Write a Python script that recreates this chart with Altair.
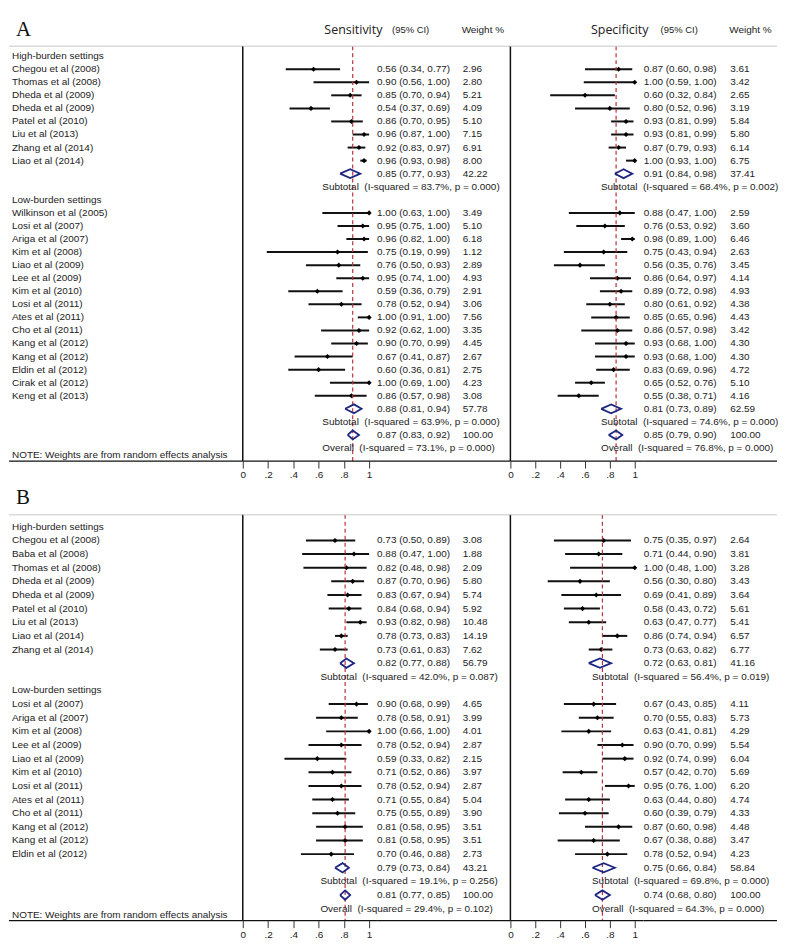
import altair as alt
import pandas as pd

# ======================= DATA =======================
# Panel A
A_HIGH_STUDIES = ["Chegou et al (2008)", "Thomas et al (2008)", "Dheda et al (2009)", "Dheda et al (2009)",
                  "Patel et al (2010)", "Liu et al (2013)", "Zhang et al (2014)", "Liao et al (2014)"]
A_HIGH_SENS = [(0.56, 0.34, 0.77, 2.96), (0.90, 0.56, 1.00, 2.80), (0.85, 0.70, 0.94, 5.21), (0.54, 0.37, 0.69, 4.09),
               (0.86, 0.70, 0.95, 5.10), (0.96, 0.87, 1.00, 7.15), (0.92, 0.83, 0.97, 6.91), (0.96, 0.93, 0.98, 8.00)]
A_HIGH_SPEC = [(0.87, 0.60, 0.98, 3.61), (1.00, 0.59, 1.00, 3.42), (0.60, 0.32, 0.84, 2.65), (0.80, 0.52, 0.96, 3.19),
               (0.93, 0.81, 0.99, 5.84), (0.93, 0.81, 0.99, 5.80), (0.87, 0.79, 0.93, 6.14), (1.00, 0.93, 1.00, 6.75)]
A_HIGH_POOLED = [(0.85, 0.77, 0.93, 42.22), (0.91, 0.84, 0.98, 37.41)]
A_HIGH_HET = ["I-squared = 83.7%, p = 0.000", "I-squared = 68.4%, p = 0.002"]

A_LOW_STUDIES = ["Wilkinson et al (2005)", "Losi et al (2007)", "Ariga et al (2007)", "Kim et al (2008)",
                 "Liao et al (2009)", "Lee et al (2009)", "Kim et al (2010)", "Losi et al (2011)", "Ates et al (2011)",
                 "Cho et al (2011)", "Kang et al (2012)", "Kang et al (2012)", "Eldin et al (2012)",
                 "Cirak et al (2012)", "Keng et al (2013)"]
A_LOW_SENS = [(1.00, 0.63, 1.00, 3.49), (0.95, 0.75, 1.00, 5.10), (0.96, 0.82, 1.00, 6.18), (0.75, 0.19, 0.99, 1.12),
              (0.76, 0.50, 0.93, 2.89), (0.95, 0.74, 1.00, 4.93), (0.59, 0.36, 0.79, 2.91), (0.78, 0.52, 0.94, 3.06),
              (1.00, 0.91, 1.00, 7.56), (0.92, 0.62, 1.00, 3.35), (0.90, 0.70, 0.99, 4.45), (0.67, 0.41, 0.87, 2.67),
              (0.60, 0.36, 0.81, 2.75), (1.00, 0.69, 1.00, 4.23), (0.86, 0.57, 0.98, 3.08)]
A_LOW_SPEC = [(0.88, 0.47, 1.00, 2.59), (0.76, 0.53, 0.92, 3.60), (0.98, 0.89, 1.00, 6.46), (0.75, 0.43, 0.94, 2.63),
              (0.56, 0.35, 0.76, 3.45), (0.86, 0.64, 0.97, 4.14), (0.89, 0.72, 0.98, 4.93), (0.80, 0.61, 0.92, 4.38),
              (0.85, 0.65, 0.96, 4.43), (0.86, 0.57, 0.98, 3.42), (0.93, 0.68, 1.00, 4.30), (0.93, 0.68, 1.00, 4.30),
              (0.83, 0.69, 0.96, 4.72), (0.65, 0.52, 0.76, 5.10), (0.55, 0.38, 0.71, 4.16)]
A_LOW_POOLED = [(0.88, 0.81, 0.94, 57.78), (0.81, 0.73, 0.89, 62.59)]
A_LOW_HET = ["I-squared = 63.9%, p = 0.000", "I-squared = 74.6%, p = 0.000"]
A_OVERALL = [(0.87, 0.83, 0.92, 100.00), (0.85, 0.79, 0.90, 100.00)]
A_OVERALL_HET = ["I-squared = 73.1%, p = 0.000", "I-squared = 76.8%, p = 0.000"]

# Panel B
B_HIGH_STUDIES = ["Chegou et al (2008)", "Baba et al (2008)", "Thomas et al (2008)", "Dheda et al (2009)",
                  "Dheda et al (2009)", "Patel et al (2010)", "Liu et al (2013)", "Liao et al (2014)",
                  "Zhang et al (2014)"]
B_HIGH_SENS = [(0.73, 0.50, 0.89, 3.08), (0.88, 0.47, 1.00, 1.88), (0.82, 0.48, 0.98, 2.09), (0.87, 0.70, 0.96, 5.80),
               (0.83, 0.67, 0.94, 5.74), (0.84, 0.68, 0.94, 5.92), (0.93, 0.82, 0.98, 10.48), (0.78, 0.73, 0.83, 14.19),
               (0.73, 0.61, 0.83, 7.62)]
B_HIGH_SPEC = [(0.75, 0.35, 0.97, 2.64), (0.71, 0.44, 0.90, 3.81), (1.00, 0.48, 1.00, 3.28), (0.56, 0.30, 0.80, 3.43),
               (0.69, 0.41, 0.89, 3.64), (0.58, 0.43, 0.72, 5.61), (0.63, 0.47, 0.77, 5.41), (0.86, 0.74, 0.94, 6.57),
               (0.73, 0.63, 0.82, 6.77)]
B_HIGH_POOLED = [(0.82, 0.77, 0.88, 56.79), (0.72, 0.63, 0.81, 41.16)]
B_HIGH_HET = ["I-squared = 42.0%, p = 0.087", "I-squared = 56.4%, p = 0.019"]

B_LOW_STUDIES = ["Losi et al (2007)", "Ariga et al (2007)", "Kim et al (2008)", "Lee et al (2009)",
                 "Liao et al (2009)", "Kim et al (2010)", "Losi et al (2011)", "Ates et al (2011)", "Cho et al (2011)",
                 "Kang et al (2012)", "Kang et al (2012)", "Eldin et al (2012)"]
B_LOW_SENS = [(0.90, 0.68, 0.99, 4.65), (0.78, 0.58, 0.91, 3.99), (1.00, 0.66, 1.00, 4.01), (0.78, 0.52, 0.94, 2.87),
              (0.59, 0.33, 0.82, 2.15), (0.71, 0.52, 0.86, 3.97), (0.78, 0.52, 0.94, 2.87), (0.71, 0.55, 0.84, 5.04),
              (0.75, 0.55, 0.89, 3.90), (0.81, 0.58, 0.95, 3.51), (0.81, 0.58, 0.95, 3.51), (0.70, 0.46, 0.88, 2.73)]
B_LOW_SPEC = [(0.67, 0.43, 0.85, 4.11), (0.70, 0.55, 0.83, 5.73), (0.63, 0.41, 0.81, 4.29), (0.90, 0.70, 0.99, 5.54),
              (0.92, 0.74, 0.99, 6.04), (0.57, 0.42, 0.70, 5.69), (0.95, 0.76, 1.00, 6.20), (0.63, 0.44, 0.80, 4.74),
              (0.60, 0.39, 0.79, 4.33), (0.87, 0.60, 0.98, 4.48), (0.67, 0.38, 0.88, 3.47), (0.78, 0.52, 0.94, 4.23)]
B_LOW_POOLED = [(0.79, 0.73, 0.84, 43.21), (0.75, 0.66, 0.84, 58.84)]
B_LOW_HET = ["I-squared = 19.1%, p = 0.256", "I-squared = 69.8%, p = 0.000"]
B_OVERALL = [(0.81, 0.77, 0.85, 100.00), (0.74, 0.68, 0.80, 100.00)]
B_OVERALL_HET = ["I-squared = 29.4%, p = 0.102", "I-squared = 64.3%, p = 0.000"]

GROUP_TITLES = ["High-burden settings", "Low-burden settings"]
NOTE = "NOTE: Weights are from random effects analysis"
TICKS = [0, 0.2, 0.4, 0.6, 0.8, 1]

# ======================= STYLE / LAYOUT =======================
FONT = "Liberation Sans"
TXT = "#222222"
NAVY = "#1d2680"
RED = "#b8333d"
W_LAB, W_SF, W_ST, W_PF, W_PT = 235, 135, 134, 134, 134
PPU_SENS, PPU_SPEC = 127, 125


def build(groups, overall, overall_het):
    recs = []

    def add(kind, label="", sens=None, spec=None, het=None):
        d = {"row": len(recs), "kind": kind, "label": label}
        for key, v in (("se", sens), ("sp", spec)):
            if v is not None:
                d[key], d[key + "_lo"], d[key + "_hi"], d[key + "_w"] = v
                d[key + "_txt"] = f"{v[0]:.2f} ({v[1]:.2f}, {v[2]:.2f})"
                d[key + "_wtxt"] = f"{v[3]:.2f}"
        if het is not None:
            d["se_het"] = label + "\u00a0 (" + het[0] + ")"
            d["sp_het"] = label + "\u00a0 (" + het[1] + ")"
        recs.append(d)

    for title, names, sens, spec, pooled, het in groups:
        add("header", title)
        for n, a, b in zip(names, sens, spec):
            add("study", n, a, b)
        add("pooled", "", pooled[0], pooled[1])
        add("het", "Subtotal", het=het)
    add("pooled", "", overall[0], overall[1])
    add("het", "Overall", het=overall_het)
    return pd.DataFrame(recs)


def diamonds(df, key, half=0.34):
    out = []
    for _, d in df[df.kind == "pooled"].iterrows():
        est, lo, hi, r = d[key], d[key + "_lo"], d[key + "_hi"], d["row"]
        pts = [(lo, r), (est, r - half), (hi, r), (est, r + half), (lo, r)]
        for i, (x, y) in enumerate(pts):
            out.append({"id": int(r), "ord": i, "x": x, "y": y})
    return pd.DataFrame(out)


def make_panel(df, dom, height, top_row, letter, letter_row, note_row, header, sub_x):
    bottom_row = dom[1]
    ys = alt.Scale(domain=list(dom), reverse=True, nice=False, zero=False)

    def Y(f):
        return alt.Y(f, scale=ys, axis=None)

    def frame(w):
        top = alt.Chart(pd.DataFrame({"r": [top_row]})).mark_rule(color="#c8c8c8", strokeWidth=1).encode(
            y=Y("r:Q"), x=alt.value(0), x2=alt.value(w))
        bot = alt.Chart(pd.DataFrame({"r": [bottom_row]})).mark_rule(color="#111", strokeWidth=1.2).encode(
            y=Y("r:Q"), x=alt.value(0), x2=alt.value(w))
        return [top, bot]

    def text(data, x, field, size=10, font=FONT, align="left", color=TXT):
        return alt.Chart(data).mark_text(align=align, baseline="middle", font=font, fontSize=size,
                                         color=color).encode(x=alt.value(x), y=Y("row:Q"), text=field)

    base = alt.Chart(df)

    # ---- label column ----
    lab_layers = frame(W_LAB) + [
        base.transform_filter("datum.kind == 'header' || datum.kind == 'study'").mark_text(
            align="left", baseline="middle", font=FONT, fontSize=10, color=TXT).encode(
            x=alt.value(3), y=Y("row:Q"), text="label:N"),
        text(pd.DataFrame({"row": [note_row], "t": [NOTE]}), 3, "t:N"),
        text(pd.DataFrame({"row": [letter_row], "t": [letter]}), 7, "t:N", size=21, font="Liberation Serif",
             color="#111"),
    ]
    labels = alt.layer(*lab_layers).properties(width=W_LAB, height=height)

    def forest(key, width, ppu, sx, head):
        xs = alt.Scale(domain=[0, width / ppu], nice=False, zero=False)
        axis = alt.Axis(values=TICKS, title=None, grid=False, domain=False, ticks=True, tickSize=7,
                        tickColor="#333", labels=True,
                        labelFont=FONT, labelFontSize=10, labelColor=TXT, labelPadding=2, labelFlush=False,
                        labelOverlap=False,
                        labelExpr="datum.value == 0 ? '0' : datum.value == 1 ? '1' : "
                                  "replace(format(datum.value, '.1f'), '0.', '.')")

        def X(f):
            return alt.X(f, scale=xs, axis=axis)

        studies = base.transform_filter("datum.kind == 'study'")
        overall_est = df[df.kind == "pooled"].iloc[-1][key]
        layers = [
            studies.mark_rule(color="#111", strokeWidth=2).encode(
                x=X(f"{key}_lo:Q"), x2=f"{key}_hi:Q", y=Y("row:Q")),
            studies.mark_point(shape="diamond", filled=True, color="#000", size=26, opacity=1).encode(
                x=X(f"{key}:Q"), y=Y("row:Q")),
            alt.Chart(pd.DataFrame({"v": [0], "r1": [top_row], "r2": [bottom_row]})).mark_rule(
                color="#111", strokeWidth=1.5).encode(
                x=X("v:Q"), y=Y("r1:Q"), y2="r2:Q"),
            alt.Chart(pd.DataFrame({"v": [overall_est], "r1": [top_row], "r2": [bottom_row]})).mark_rule(
                color=RED, strokeWidth=1.2, strokeDash=[4, 3]).encode(
                x=X("v:Q"), y=Y("r1:Q"), y2="r2:Q"),
            alt.Chart(diamonds(df, key)).mark_line(color=NAVY, strokeWidth=1.8, strokeJoin="miter").encode(
                x=X("x:Q"), y=Y("y:Q"), detail="id:N", order="ord:Q"),
            base.transform_filter("datum.kind == 'het'").mark_text(
                align="left", baseline="middle", font=FONT, fontSize=10, color=TXT).encode(
                x=alt.value(sx), y=Y("row:Q"), text=f"{key}_het:N"),
        ] + frame(width)
        if head is not None:
            layers.append(text(pd.DataFrame({"row": [letter_row], "t": [head[0]]}), head[1], "t:N",
                               size=12.5, font="Open Sans"))
        return alt.layer(*layers).properties(width=width, height=height)

    def textcol(key, width, wx, head):
        vals = base.transform_filter("datum.kind == 'study' || datum.kind == 'pooled'")
        layers = frame(width) + [
            vals.mark_text(align="left", baseline="middle", font=FONT, fontSize=10, color=TXT).encode(
                x=alt.value(0), y=Y("row:Q"), text=f"{key}_txt:N"),
            vals.mark_text(align="left", baseline="middle", font=FONT, fontSize=10, color=TXT).encode(
                x=alt.value(wx), y=Y("row:Q"), text=f"{key}_wtxt:N"),
        ]
        if head is not None:
            layers.append(text(pd.DataFrame({"row": [letter_row], "t": ["(95% CI)"]}), head[0], "t:N", size=9.5))
            layers.append(text(pd.DataFrame({"row": [letter_row], "t": ["Weight %"]}), head[1], "t:N", size=10))
        return alt.layer(*layers).properties(width=width, height=height)

    sf = forest("se", W_SF, PPU_SENS, sub_x[0], ("Sensitivity", 82) if header else None)
    st = textcol("se", W_ST, 86, (15, 85) if header else None)
    pf = forest("sp", W_PF, PPU_SPEC, sub_x[1], ("Specificity", 81) if header else None)
    pt = textcol("sp", W_PT, 87, (17, 86) if header else None)
    return [labels, sf, st, pf, pt]


dfA = build([(GROUP_TITLES[0], A_HIGH_STUDIES, A_HIGH_SENS, A_HIGH_SPEC, A_HIGH_POOLED, A_HIGH_HET),
             (GROUP_TITLES[1], A_LOW_STUDIES, A_LOW_SENS, A_LOW_SPEC, A_LOW_POOLED, A_LOW_HET)],
            A_OVERALL, A_OVERALL_HET)
dfB = build([(GROUP_TITLES[0], B_HIGH_STUDIES, B_HIGH_SENS, B_HIGH_SPEC, B_HIGH_POOLED, B_HIGH_HET),
             (GROUP_TITLES[1], B_LOW_STUDIES, B_LOW_SENS, B_LOW_SPEC, B_LOW_POOLED, B_LOW_HET)],
            B_OVERALL, B_OVERALL_HET)

nA = int(dfA.row.max())
nB = int(dfB.row.max())
viewsA = make_panel(dfA, (-3.50, 31.0), 453, -0.76, "A", -2.0, nA + 0.54, True, (80, 91))
viewsB = make_panel(dfB, (-3.14, 28.88), 439, -0.875, "B", -2.1, nB + 0.45, False, (78, 82))

chart = alt.concat(*viewsA, *viewsB, columns=5, spacing={"row": 23, "column": 0}, bounds="flush",
                   padding={"left": 0, "top": 0, "right": 0, "bottom": 0}).configure_view(stroke=None)

chart.save("out.html", embed_options={"renderer": "svg", "actions": False})
